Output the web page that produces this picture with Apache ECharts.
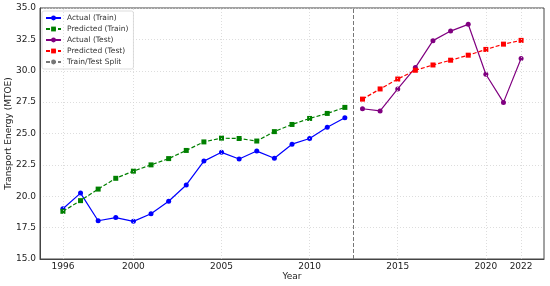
<!DOCTYPE html>
<html>
<head>
<meta charset="utf-8">
<script src="https://cdn.jsdelivr.net/npm/echarts@6/dist/echarts.min.js"></script>
<style>
  html, body { margin: 0; padding: 0; background: #fff; }
  #chart { width: 550px; height: 286px; }
</style>
</head>
<body>
<div id="chart"></div>
<script>
const trainYears = [1996, 1997, 1998, 1999, 2000, 2001, 2002, 2003, 2004, 2005, 2006, 2007, 2008, 2009, 2010, 2011, 2012];
const actualTrain = [19.0, 20.25, 18.05, 18.3, 18.0, 18.6, 19.6, 20.9, 22.8, 23.5, 22.97, 23.6, 23.03, 24.15, 24.6, 25.5, 26.25];
const predictedTrain = [18.8, 19.65, 20.57, 21.43, 22.0, 22.5, 23.0, 23.65, 24.33, 24.63, 24.6, 24.4, 25.15, 25.72, 26.2, 26.6, 27.08];
const testYears = [2013, 2014, 2015, 2016, 2017, 2018, 2019, 2020, 2021, 2022];
const actualTest = [26.97, 26.8, 28.55, 30.25, 32.4, 33.16, 33.7, 29.72, 27.48, 30.98];
const predictedTest = [27.74, 28.55, 29.34, 30.04, 30.46, 30.84, 31.24, 31.7, 32.12, 32.42];
const xTicks = [1996, 2000, 2005, 2010, 2015, 2020, 2022];
const splitYear = 2012.5;

const pairs = (xs, ys) => xs.map((x, i) => [x, ys[i]]);

const chart = echarts.init(document.getElementById("chart"));

const txt = { color: "#222", fontFamily: "DejaVu Sans", fontSize: 9 };
const gridLine = { color: "#d4d4d4", type: [1, 2], width: 0.8 };

const option = {
    animation: false,
    grid: {
        left: 40,
        right: 6,
        top: 8,
        bottom: 27,
        outerBoundsMode: "none",
        containLabel: false,
        show: true,
        borderColor: "#444",
        borderWidth: 1
    },
    legend: {
        left: 42,
        top: 11,
        orient: "vertical",
        itemWidth: 15,
        itemHeight: 6,
        itemGap: 3,
        padding: [3, 5, 3, 3],
        backgroundColor: "rgba(255,255,255,0.9)",
        borderColor: "#ddd",
        borderWidth: 1,
        borderRadius: 2,
        textStyle: { color: "#333", fontFamily: "DejaVu Sans", fontSize: 7.5, padding: [0, 0, 0, 1] },
        data: ["Actual (Train)", "Predicted (Train)", "Actual (Test)", "Predicted (Test)", "Train/Test Split"]
    },
    xAxis: {
        type: "value",
        min: 1994.7,
        max: 2023.3,
        name: "Year",
        nameLocation: "middle",
        nameGap: 13,
        nameMoveOverlap: false,
        nameTextStyle: txt,
        axisLine: { lineStyle: { color: "#444" } },
        axisTick: { show: false, customValues: xTicks },
        axisLabel: Object.assign({ customValues: xTicks, margin: 3, formatter: v => String(v) }, txt),
        splitLine: { show: false }
    },
    yAxis: {
        type: "value",
        min: 15,
        max: 35,
        interval: 2.5,
        name: "Transport Energy (MTOE)",
        nameLocation: "middle",
        nameGap: 27,
        nameMoveOverlap: false,
        nameTextStyle: txt,
        axisLine: { show: true, lineStyle: { color: "#444" } },
        axisTick: { show: false },
        axisLabel: Object.assign({ margin: 4, formatter: v => v.toFixed(1) }, txt),
        splitLine: { show: true, lineStyle: gridLine }
    },
    series: [
        {
            // vertical grid lines at the year ticks
            name: "xgrid",
            type: "line",
            data: [],
            markLine: {
                silent: true,
                symbol: "none",
                label: { show: false },
                lineStyle: gridLine,
                data: xTicks.map(x => ({ xAxis: x }))
            }
        },
        {
            name: "Actual (Train)",
            type: "line",
            data: pairs(trainYears, actualTrain),
            symbol: "circle",
            symbolSize: 5,
            itemStyle: { color: "#0000ff" },
            lineStyle: { color: "#0000ff", width: 1.2 }
        },
        {
            name: "Predicted (Train)",
            type: "line",
            data: pairs(trainYears, predictedTrain),
            symbol: "rect",
            symbolSize: 5,
            itemStyle: { color: "#008000" },
            lineStyle: { color: "#008000", width: 1.2, type: [4, 2] }
        },
        {
            name: "Actual (Test)",
            type: "line",
            data: pairs(testYears, actualTest),
            symbol: "circle",
            symbolSize: 5,
            itemStyle: { color: "#800080" },
            lineStyle: { color: "#800080", width: 1.2 }
        },
        {
            name: "Predicted (Test)",
            type: "line",
            data: pairs(testYears, predictedTest),
            symbol: "rect",
            symbolSize: 5,
            itemStyle: { color: "#ff0000" },
            lineStyle: { color: "#ff0000", width: 1.2, type: [4, 2] }
        },
        {
            name: "Train/Test Split",
            type: "line",
            data: [],
            symbol: "none",
            itemStyle: { color: "#777" },
            lineStyle: { color: "#777", width: 1, type: [4, 2] },
            markLine: {
                silent: true,
                symbol: "none",
                label: { show: false },
                lineStyle: { color: "#777", width: 1, type: [4, 2] },
                data: [{ xAxis: splitYear }]
            }
        }
    ]
};

chart.setOption(option);
</script>
</body>
</html>
